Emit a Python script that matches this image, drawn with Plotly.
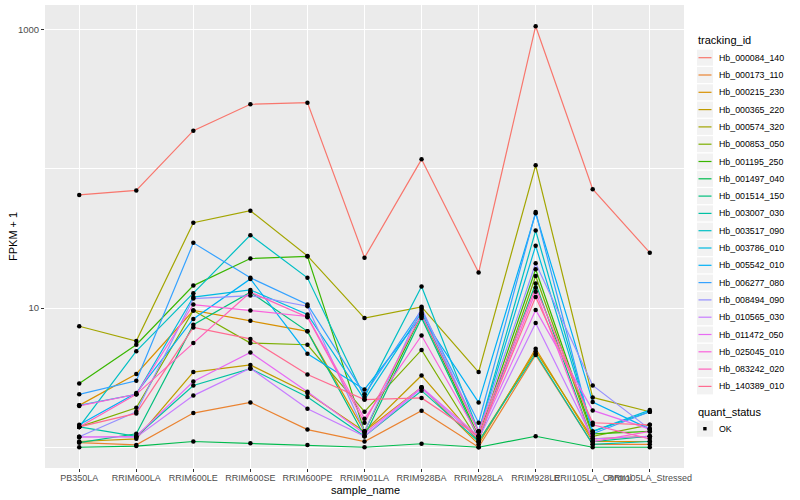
import plotly.graph_objects as go

samples = ["PB350LA", "RRIM600LA", "RRIM600LE", "RRIM600SE", "RRIM600PE", "RRIM901LA",
           "RRIM928BA", "RRIM928LA", "RRIM928LE", "RRII105LA_Control", "RRII105LA_Stressed"]

tracking_ids = ["Hb_000084_140", "Hb_000173_110", "Hb_000215_230", "Hb_000365_220", "Hb_000574_320",
                "Hb_000853_050", "Hb_001195_250", "Hb_001497_040", "Hb_001514_150", "Hb_003007_030",
                "Hb_003517_090", "Hb_003786_010", "Hb_005542_010", "Hb_006277_080", "Hb_008494_090",
                "Hb_010565_030", "Hb_011472_050", "Hb_025045_010", "Hb_083242_020", "Hb_140389_010"]

colors = ["#F8766D", "#EA8331", "#D89000", "#C09B00", "#A3A500", "#7CAE00", "#39B600", "#00BB4E",
          "#00BF7D", "#00C1A3", "#00BFC4", "#00BAE0", "#00B0F6", "#35A2FF", "#9590FF", "#C77CFF",
          "#E76BF3", "#FA62DB", "#FF62BC", "#FF6C91"]

# FPKM + 1 values per gene, in sample order
hb_000084_140 = [65, 70, 188, 291, 299, 23, 117, 18.0, 1058, 71.5, 25]
hb_000173_110 = [1.08, 1.04, 1.76, 2.1, 1.34, 1.1, 1.83, 1.0, 4.6, 1.05, 1.05]
hb_000215_230 = [2.0, 3.36, 9.6, 8.1, 6.8, 1.3, 2.7, 1.05, 5.1, 1.1, 1.1]
hb_000365_220 = [1.1, 1.15, 3.47, 3.9, 2.45, 1.3, 3.28, 1.1, 4.9, 1.15, 1.2]
hb_000574_320 = [7.4, 5.8, 41, 50, 23.7, 8.47, 10.2, 3.47, 106, 2.28, 1.8]
hb_000853_050 = [1.4, 1.92, 9.6, 5.6, 5.45, 1.8, 5.0, 1.1, 17, 1.2, 1.45]
hb_001195_250 = [2.87, 5.45, 14.5, 22.7, 23.5, 1.3, 9.0, 1.2, 19, 1.25, 1.3]
hb_001497_040 = [1.0, 1.02, 1.1, 1.07, 1.04, 1.0, 1.06, 1.0, 1.2, 1.0, 1.0]
hb_001514_150 = [1.08, 1.25, 7.6, 13.0, 6.8, 1.2, 8.5, 1.15, 15, 1.1, 1.2]
hb_003007_030 = [1.4, 1.2, 2.78, 3.67, 2.3, 1.2, 2.55, 1.1, 4.7, 1.05, 1.1]
hb_003517_090 = [1.4, 4.9, 12.8, 33.4, 16.5, 2.3, 14.3, 1.3, 36, 1.3, 1.8]
hb_003786_010 = [2.0, 2.4, 12.0, 13.5, 9.0, 2.2, 9.3, 1.3, 28, 1.3, 1.85]
hb_005542_010 = [1.45, 2.45, 8.35, 16.2, 4.7, 2.6, 8.7, 2.1, 48, 2.11, 1.35]
hb_006277_080 = [2.4, 3.0, 29.4, 16.5, 10.6, 2.4, 9.7, 1.5, 49, 1.25, 1.8]
hb_008494_090 = [1.19, 1.8, 11.7, 12.3, 10.3, 1.3, 10.0, 1.3, 21, 2.78, 1.35]
hb_010565_030 = [1.19, 1.18, 2.35, 3.7, 1.89, 1.2, 2.65, 1.15, 7.8, 1.15, 1.2]
hb_011472_050 = [1.18, 1.2, 2.97, 4.8, 2.5, 1.25, 2.7, 1.2, 9.7, 1.84, 1.35]
hb_025045_010 = [1.98, 2.4, 10.6, 9.6, 8.7, 1.6, 6.35, 1.2, 13.1, 1.1, 1.3]
hb_083242_020 = [1.4, 2.4, 5.6, 13.0, 8.6, 1.5, 9.0, 1.3, 14, 1.45, 1.15]
hb_140389_010 = [1.4, 1.75, 7.25, 6.0, 3.33, 2.2, 2.26, 1.2, 12, 1.5, 1.45]

series = [hb_000084_140, hb_000173_110, hb_000215_230, hb_000365_220, hb_000574_320,
          hb_000853_050, hb_001195_250, hb_001497_040, hb_001514_150, hb_003007_030,
          hb_003517_090, hb_003786_010, hb_005542_010, hb_006277_080, hb_008494_090,
          hb_010565_030, hb_011472_050, hb_025045_010, hb_083242_020, hb_140389_010]

quant_status = ["OK"]

y_tickvals = [10, 1000]
y_ticktext = ["10", "1000"]

FONT = "Liberation Sans, Arial, sans-serif"
W, H = 800, 500
L, R, T, B = 45, 116, 5, 32
PW, PH = W - L - R, H - T - B


def px(xp):
    return (xp - L) / PW


def py(yp):
    return (H - B - yp) / PH


fig = go.Figure()
for name, vals, col in zip(tracking_ids, series, colors):
    fig.add_trace(go.Scatter(x=samples, y=vals, mode="lines", name=name,
                             line=dict(color=col, width=1.2), showlegend=False))

all_x = [s for vals in series for s in samples]
all_y = [v for vals in series for v in vals]
fig.add_trace(go.Scatter(x=all_x, y=all_y, mode="markers", name=quant_status[0],
                         marker=dict(color="black", size=4.5, symbol="circle"),
                         showlegend=False))

shapes = []
annotations = []

# axis titles
annotations.append(dict(text="sample_name", x=px(365), y=py(489.5), xref="paper", yref="paper",
                        showarrow=False, font=dict(size=11, color="black", family=FONT),
                        xanchor="center", yanchor="middle"))
annotations.append(dict(text="FPKM + 1", x=px(13), y=py(237), xref="paper", yref="paper",
                        showarrow=False, textangle=-90, font=dict(size=11, color="black", family=FONT),
                        xanchor="center", yanchor="middle"))

# legend: tracking_id
annotations.append(dict(text="tracking_id", x=px(696), y=py(40.5), xref="paper", yref="paper",
                        showarrow=False, font=dict(size=11, color="black", family=FONT),
                        xanchor="left", yanchor="middle"))
for i, (name, col) in enumerate(zip(tracking_ids, colors)):
    yc = 57.7 + i * 17.3
    shapes.append(dict(type="rect", xref="paper", yref="paper",
                       x0=px(697), x1=px(713), y0=py(yc - 8), y1=py(yc + 8),
                       fillcolor="#F2F2F2", line=dict(width=0), layer="below"))
    shapes.append(dict(type="line", xref="paper", yref="paper",
                       x0=px(698.5), x1=px(711.5), y0=py(yc), y1=py(yc),
                       line=dict(color=col, width=1.2)))
    annotations.append(dict(text=name, x=px(716.5), y=py(yc), xref="paper", yref="paper",
                            showarrow=False, font=dict(size=8.8, color="black", family=FONT),
                            xanchor="left", yanchor="middle"))

# legend: quant_status
annotations.append(dict(text="quant_status", x=px(696), y=py(412), xref="paper", yref="paper",
                        showarrow=False, font=dict(size=11, color="black", family=FONT),
                        xanchor="left", yanchor="middle"))
yc = 428.7
shapes.append(dict(type="rect", xref="paper", yref="paper",
                   x0=px(697), x1=px(713), y0=py(yc - 8), y1=py(yc + 8),
                   fillcolor="#F2F2F2", line=dict(width=0), layer="below"))
shapes.append(dict(type="rect", xref="paper", yref="paper",
                   x0=px(703.2), x1=px(706.6), y0=py(yc - 1.7), y1=py(yc + 1.7),
                   fillcolor="black", line=dict(width=0)))
annotations.append(dict(text=quant_status[0], x=px(716.5), y=py(yc), xref="paper", yref="paper",
                        showarrow=False, font=dict(size=8.8, color="black", family=FONT),
                        xanchor="left", yanchor="middle"))

fig.update_layout(
    width=W, height=H,
    margin=dict(l=L, r=R, t=T, b=B, autoexpand=False),
    paper_bgcolor="white", plot_bgcolor="#EBEBEB",
    font=dict(family=FONT, size=9, color="black"),
    showlegend=False,
    shapes=shapes, annotations=annotations,
    xaxis=dict(
        type="category", categoryorder="array", categoryarray=samples,
        range=[-0.6, len(samples) - 0.4], automargin=False,
        showgrid=True, gridcolor="white", gridwidth=1.1,
        zeroline=False, showline=False,
        ticks="outside", ticklen=3, tickcolor="#333333", tickwidth=1,
        tickangle=0, ticklabelstandoff=-2,
        tickfont=dict(size=9, color="#4D4D4D", family=FONT),
    ),
    yaxis=dict(
        type="log", range=[-0.149, 3.177], automargin=False,
        tickmode="array", tickvals=y_tickvals, ticktext=y_ticktext,
        showgrid=True, gridcolor="white", gridwidth=1.1,
        minor=dict(tickmode="array", tickvals=[1, 100], showgrid=True,
                   gridcolor="white", gridwidth=0.55, ticks=""),
        zeroline=False, showline=False,
        ticks="outside", ticklen=3, tickcolor="#333333", tickwidth=1,
        tickfont=dict(size=9.5, color="#4D4D4D", family=FONT),
    ),
)

fig.write_html("out.html", config={"displayModeBar": False},
               post_script="document.body.style.margin='0px';")
